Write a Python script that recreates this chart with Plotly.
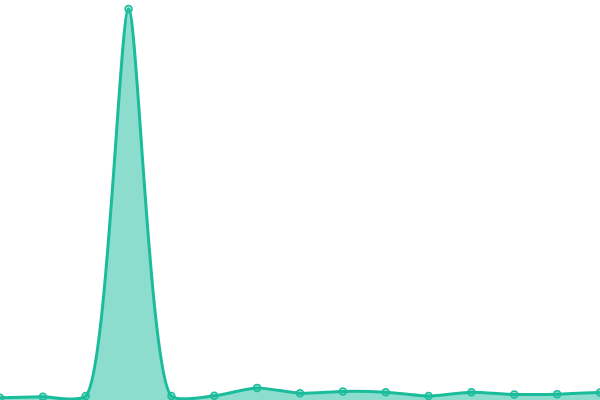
import plotly.graph_objects as go

# 15 evenly spaced samples, one large spike at index 3
x_vals = list(range(15))
y_vals = [0.6, 0.8, 1.0, 100.0, 1.0, 1.1, 3.1, 1.7, 2.2, 2.0, 1.0, 2.0, 1.4, 1.5, 1.9]

line_color = '#1abc9c'

fig = go.Figure(go.Scatter(
  x = x_vals,
  y = y_vals,
  mode = 'lines+markers',
  line = {'color': line_color, 'width': 3, 'shape': 'spline', 'smoothing': 0.6},
  marker = {'size': 7, 'color': 'rgba(26,188,156,0.45)', 'line': {'color': line_color, 'width': 1.5}},
  fill = 'tozeroy',
  fillcolor = 'rgba(26,188,156,0.5)',
  hoverinfo = 'skip',
))

fig.update_layout(
  width = 600,
  height = 400,
  margin = {'l': 0, 'r': 0, 't': 0, 'b': 0},
  paper_bgcolor = 'white',
  plot_bgcolor = 'white',
  showlegend = False,
)
fig.update_xaxes(visible = False, range = [0, 14])
fig.update_yaxes(visible = False, range = [0, 102.3])

# drop the page's default body margin so the figure sits at the window corner
fig.write_html(
  'out.html',
  config = {'displayModeBar': False, 'staticPlot': True},
  post_script = "document.body.style.margin='0';document.body.style.overflow='hidden';",
)
